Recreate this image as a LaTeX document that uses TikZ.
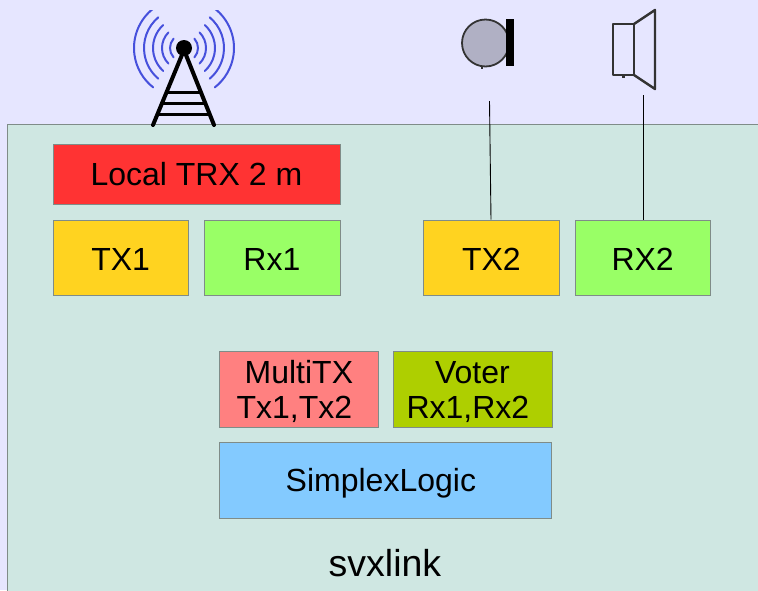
\documentclass[tikz,border=0pt]{standalone}
\usepackage{fontspec}
\setmainfont{Liberation Sans}
\definecolor{skybg}{HTML}{E6E6FF}
\definecolor{panelbg}{HTML}{CFE7E2}
\definecolor{edgegray}{HTML}{7F8C88}
\definecolor{redbox}{HTML}{FF3333}
\definecolor{yellowbox}{HTML}{FFD320}
\definecolor{greenbox}{HTML}{99FF66}
\definecolor{pinkbox}{HTML}{FF8080}
\definecolor{olivebox}{HTML}{AECF00}
\definecolor{bluebox}{HTML}{83CAFF}
\definecolor{wavec}{HTML}{4650DC}
\definecolor{micgray}{HTML}{B0B0C4}
\tikzset{
  blockbox/.style={draw=edgegray,line width=0.8pt,anchor=north west,inner sep=0pt,align=center,font=\fontsize{32}{35.5}\selectfont},
  wave/.style={draw=wavec,line width=2pt,line cap=round},
  towerline/.style={draw=black,line width=4pt,line cap=round},
  iconline/.style={draw=black!80,line width=2.4pt,line join=round},
  wire/.style={draw=black,line width=0.9pt}
}
\newcommand{\pxbox}[7]{\node[blockbox,fill=#1,minimum width=#4pt,minimum height=#5pt] (#6) at (#2pt,-#3pt) {#7};}
\begin{document}
\begin{tikzpicture}[x=1pt,y=-1pt]
\useasboundingbox (0,0) rectangle (758,590);
\fill[skybg] (0,0) rectangle (758,590);
\begin{scope}
\clip (0,10) rectangle (758,130);
\foreach \r/\a in {14/42,22/45,31/48,40/50,50/52}{
  \draw[wave] ({184-\r*cos(\a)},{48-\r*sin(\a)}) arc[start angle=180-\a,end angle=180+\a,radius=\r,y radius=-\r];
  \draw[wave] ({184+\r*cos(\a)},{48-\r*sin(\a)}) arc[start angle=\a,end angle=-\a,radius=\r,y radius=-\r];
}
\end{scope}
\draw[fill=panelbg,draw=edgegray,line width=0.8pt] (7.5,600) -- (7.5,124.5) -- (770,124.5) -- (770,600);
\draw[towerline] (153,125) -- (184,50) -- (214,125);
\draw[towerline,line width=3pt,line cap=butt] (167,92) -- (201,92) (162,103) -- (205,103) (158,114) -- (210,114);
\fill[black] (184,48) circle[radius=8];
% microphone
\draw[iconline,fill=micgray,line width=1.8pt] (485.5,43) circle[radius=23.5];
\fill[black] (506,19) rectangle (513.5,66);
\fill[black!80] (481,66) rectangle (483,69);
% speaker
\draw[iconline] (613,24) rectangle (634,75);
\draw[iconline] (634,24) -- (655,10) -- (655,89) -- (634,75);
\fill[black!80] (622,75) rectangle (625,78);
% boxes
\pxbox{redbox}{52.5}{143.5}{287}{60.5}{local}{Local TRX 2 m}
\pxbox{yellowbox}{52.5}{219.5}{135.5}{75.5}{txone}{\rule{0pt}{25pt}TX1}
\pxbox{greenbox}{203.5}{219.5}{136}{75.5}{rxone}{\rule{0pt}{25pt}Rx1}
\pxbox{yellowbox}{423}{219.5}{136}{75.5}{txtwo}{\rule{0pt}{25pt}TX2}
\pxbox{greenbox}{574.5}{219.5}{135.5}{75.5}{rxtwo}{\rule{0pt}{25pt}RX2}
\pxbox{pinkbox}{219}{351}{159}{75.5}{multi}{\rule{0pt}{27.5pt}MultiTX\\Tx1,Tx2\kern9pt}
\pxbox{olivebox}{392.5}{351}{159}{75.5}{voter}{\rule{0pt}{27.5pt}Voter\\Rx1,Rx2\kern9pt}
\pxbox{bluebox}{219}{442}{332}{75.5}{simplex}{\rule{0pt}{29.5pt}SimplexLogic\kern9pt}
\node[font=\fontsize{37.5}{40}\selectfont,inner sep=0pt] (svx) at (385,563) {svxlink};
% wires
\coordinate (micend) at (489.5,101);
\coordinate (spkend) at (643,95);
\draw[wire] (micend) -- (txtwo.north -| 491,0);
\draw[wire] (spkend) -- (rxtwo.north -| 643,0);
\end{tikzpicture}
\end{document}
